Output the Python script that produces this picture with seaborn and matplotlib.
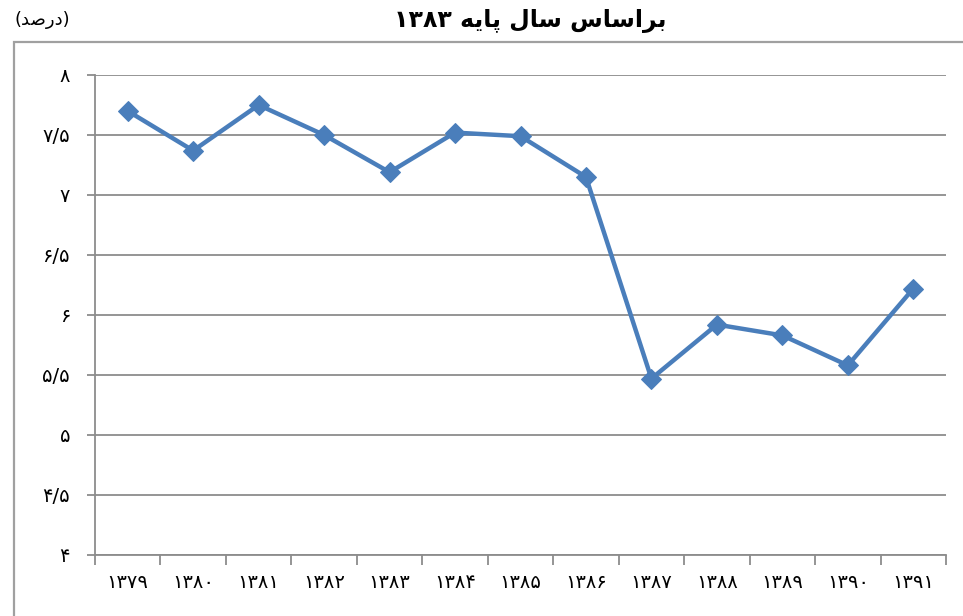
import numpy as np
import pandas as pd
import matplotlib
matplotlib.use("Agg")
import matplotlib.pyplot as plt
import seaborn as sns
from matplotlib.patches import Rectangle

# years (Persian digits) and values (percent)
years = ['۱۳۷۹', '۱۳۸۰', '۱۳۸۱', '۱۳۸۲', '۱۳۸۳', '۱۳۸۴', '۱۳۸۵',
         '۱۳۸۶', '۱۳۸۷', '۱۳۸۸', '۱۳۸۹', '۱۳۹۰', '۱۳۹۱']
values = [7.70, 7.37, 7.75, 7.50, 7.19, 7.52, 7.49,
          7.15, 5.47, 5.92, 5.83, 5.58, 6.22]
yticks = [4, 4.5, 5, 5.5, 6, 6.5, 7, 7.5, 8]
ytick_labels = ['۴', '۴/۵', '۵', '۵/۵', '۶', '۶/۵', '۷', '۷/۵', '۸']

# Arabic text written in shaped presentation forms, visual order
title = '۱۳۸۳ ' + '\uFEEA\uFBFE\uFE8E\uFB58' + ' ' + '\uFEDD\uFE8E\uFEB3' + ' ' + \
        '\uFEB1\uFE8E\uFEB3\uFE8D\uFEAE\uFE91'
unit = '(' + '\uFEAA\uFEBB\uFEAD\uFEA9' + ')'

df = pd.DataFrame({'year': years, 'value': values})

sns.set_style("white")
plt.rcParams['font.family'] = ['DejaVu Sans']
plt.rcParams['text.color'] = 'black'
plt.rcParams['xtick.color'] = 'black'
plt.rcParams['ytick.color'] = 'black'

fig = plt.figure(figsize=(9.63, 6.16), dpi=100)
ax = fig.add_axes([95/963, 1 - 555/616, 851/963, 480/616])

grid_c = '#8c8c8c'
sns.lineplot(data=df, x='year', y='value', ax=ax, color='#4a7ebb',
             linewidth=3.2, marker='D', markersize=10,
             markeredgecolor='#4a7ebb', zorder=3)

ax.set_ylim(4, 8)
ax.set_xlim(-0.5, len(years) - 0.5)
ax.set_yticks(yticks)
ax.set_yticklabels(ytick_labels, fontsize=14)
ax.set_xticks(range(len(years)))
ax.set_xticklabels(years, fontsize=14)
ax.set_xticks(np.arange(-0.5, len(years)), minor=True)
ax.tick_params(axis='x', which='major', bottom=True, length=0, pad=13)
ax.tick_params(axis='x', which='minor', bottom=True, length=7, width=1.3,
               color=grid_c, direction='out')
ax.tick_params(axis='y', left=True, length=6, width=1.3, color=grid_c,
               direction='out', pad=12)
ax.yaxis.grid(True, color=grid_c, linewidth=1.3)
ax.set_xlabel('')
ax.set_ylabel('')
for s in ['top', 'right']:
    ax.spines[s].set_visible(False)
for s in ['left', 'bottom']:
    ax.spines[s].set_color(grid_c)
    ax.spines[s].set_linewidth(1.3)

fig.text(530/963, 1 - 21/616, title, ha='center', va='center',
         fontsize=17, fontweight='bold')
fig.text(42/963, 1 - 20/616, unit, ha='center', va='center', fontsize=13)

# outer chart frame (cut off at right and bottom)
fig.add_artist(Rectangle((14/963, -0.2), 1.2, 1.2 - 42/616,
                         transform=fig.transFigure, fill=False,
                         edgecolor='#a0a0a0', linewidth=1.6))

fig.savefig('out.png', dpi=100)
